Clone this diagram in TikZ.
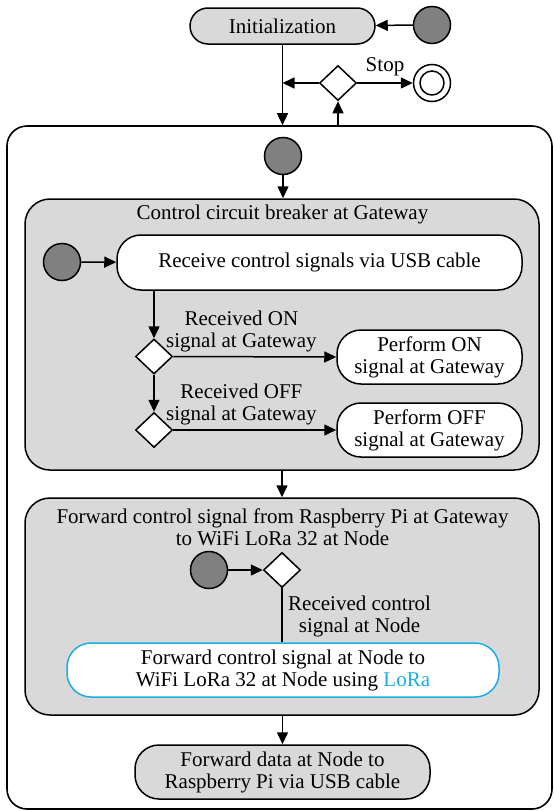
\documentclass[tikz,border=0pt]{standalone}
\usepackage{fontspec}
\setmainfont{LiberationSerif}[Extension=.ttf,UprightFont=*-Regular,BoldFont=*-Bold,ItalicFont=*-Italic]
\newfontfamily\timesfont{LiberationSerif}[Extension=.ttf,UprightFont=*-Regular]
\usetikzlibrary{arrows.meta,shapes.geometric}
\definecolor{boxgray}{HTML}{D9D9D9}
\definecolor{dotgray}{HTML}{808080}
\definecolor{lorablue}{HTML}{1AAEE8}
\tikzset{
  every node/.style={font=\timesfont\fontsize{21}{22}\selectfont},
  conn/.style={line width=1.5pt,-{Triangle[length=12pt,width=11pt]}},
  plain/.style={line width=1.5pt},
  startdot/.style={circle,draw,line width=1.5pt,fill=dotgray,minimum size=37pt,inner sep=0pt},
  decision/.style={diamond,draw,line width=1.5pt,fill=white,minimum width=37pt,minimum height=35pt,inner sep=0pt},
  graybox/.style={draw,line width=1.5pt,fill=boxgray,rounded corners=24pt,align=center,inner sep=0pt},
  whitebox/.style={draw,line width=1.5pt,fill=white,rounded corners=24pt,align=center,inner sep=0pt},
  region/.style={draw,line width=1.5pt,fill=boxgray,rounded corners=25pt,inner sep=0pt},
  lbl/.style={align=center,inner sep=0pt},
}
\begin{document}
\begin{tikzpicture}[x=1pt,y=-1pt]
\useasboundingbox (0,0) rectangle (554,811);
% outer composite state
\node[draw,line width=1.6pt,rounded corners=20pt,minimum width=545pt,minimum height=683pt,inner sep=0pt] (outer) at (279.5,467.5) {};
% top part
\node[graybox,minimum width=185pt,minimum height=36pt,rounded corners=18pt] (init) at (282.5,26) {Initialization};
\node[startdot] (s0) at (432,25) {};
\node[decision] (d0) at (338,83) {};
\node[circle,draw,line width=1.5pt,fill=white,minimum size=37pt,inner sep=0pt] (fin) at (432,83) {};
\draw[line width=1.5pt] (fin.center) circle (12);
\draw[conn] (s0) -- (init);
\draw[conn] (init) -- (init |- outer.north);
\draw[conn] (d0.west) -- (init |- d0);
\draw[conn] (d0.east) -- node[lbl,above=6pt] (stoplbl) {Stop} (fin.west);
\draw[conn] (d0 |- outer.north) -- (d0.south);
% first region
\node[startdot] (s1) at (283,156) {};
\node[region,minimum width=514pt,minimum height=271pt] (box1) at (282,334.5) {};
\draw[conn] (s1) -- (box1.north -| s1);
\node[lbl] (box1t) at (282.5,214) {Control circuit breaker at Gateway};
\node[startdot] (s2) at (62,262) {};
\node[whitebox,minimum width=405pt,minimum height=55pt] (recv) at (319.5,262.5) {Receive control signals via USB cable};
\draw[conn] (s2) -- (recv);
\node[decision] (d1) at (154,356.5) {};
\node[decision] (d2) at (154,430) {};
\node[whitebox,minimum width=185pt,minimum height=54pt] (pon) at (429.5,357) {Perform ON\\signal at Gateway};
\node[whitebox,minimum width=185pt,minimum height=54pt] (poff) at (429.5,430) {Perform OFF\\signal at Gateway};
\draw[conn] (d1 |- recv.south) -- (d1.north);
\draw[conn] (d1.south) -- (d2.north);
\draw[conn] (d1.east) -- (pon.west);
\draw[conn] (d2.east) -- (poff.west);
\node[lbl,anchor=west] (onlbl) at (166,331) {Received ON\\signal at Gateway};
\node[lbl,anchor=west] (offlbl) at (166,404) {Received OFF\\signal at Gateway};
% second region
\node[region,minimum width=514pt,minimum height=217pt] (box2) at (282,606.5) {};
\draw[conn] (box1.south) -- (box2.north);
\node[lbl] (box2t) at (282.5,527) {Forward control signal from Raspberry Pi at Gateway\\to WiFi LoRa 32 at Node};
\node[startdot] (s3) at (209,570) {};
\node[decision] (d3) at (282,570) {};
\draw[conn] (s3) -- (d3.west);
\node[draw=lorablue,line width=1.5pt,fill=white,rounded corners=24pt,align=center,inner sep=0pt,minimum width=432pt,minimum height=54pt] (lora) at (283,670) {Forward control signal at Node to\\WiFi LoRa 32 at Node using \textcolor{lorablue}{LoRa}};
\draw[plain] (d3.south) -- (lora.north -| d3);
\node[lbl,anchor=west] (nodelbl) at (288,616) {Received control\\signal at Node};
% final
\node[graybox,minimum width=295pt,minimum height=54pt] (fwd) at (282.5,772) {Forward data at Node to\\Raspberry Pi via USB cable};
\draw[conn] (fwd |- box2.south) -- (fwd.north);
\end{tikzpicture}
\end{document}
